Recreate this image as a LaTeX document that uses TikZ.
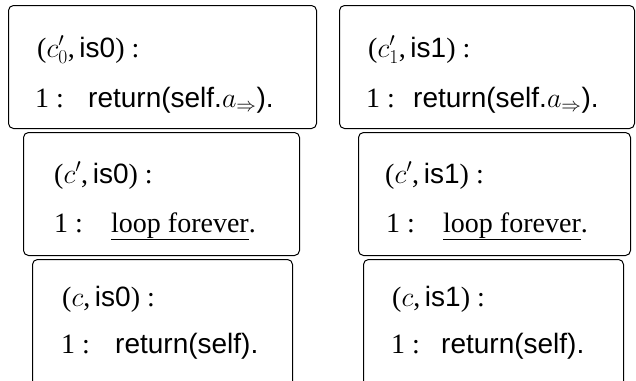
\documentclass[tikz,border=0pt]{standalone}
\usepackage{fix-cm}
\usepackage{fontspec}
\setmainfont{Liberation Serif}
\setsansfont{Liberation Sans}
\begin{document}
\begin{tikzpicture}[x=1pt,y=-1pt,
  box/.style={draw, rounded corners=5pt, line width=1pt, anchor=north west, inner sep=0pt},
  txt/.style={anchor=base west, inner sep=0pt, font=\fontsize{28}{32}\selectfont}]
\useasboundingbox (0,0) rectangle (636,380);
\clip (0,0) rectangle (636,380);
% boxes
\node[box, minimum width=308pt, minimum height=123pt] (b1) at (8,5) {};
\node[box, minimum width=295pt, minimum height=123pt] (b2) at (339,5) {};
\node[box, minimum width=276pt, minimum height=123pt] (b3) at (23,132) {};
\node[box, minimum width=272pt, minimum height=123pt] (b4) at (358,132) {};
\node[box, minimum width=260pt, minimum height=140pt] (b5) at (32,259) {};
\node[box, minimum width=260pt, minimum height=140pt] (b6) at (363,259) {};
% box 1
\node[txt] (h1) at (37,57) {($c'_0$,\,\textsf{is0}) :};
\node[txt] (n1) at (35,107) {1 :};
\node[txt] (s1) at (88,107) {\textsf{return(self.$a_{\Rightarrow}$).}};
% box 2
\node[txt] (h2) at (368,57) {($c'_1$,\,\textsf{is1}) :};
\node[txt] (n2) at (366,107) {1 :};
\node[txt] (s2) at (413,107) {\textsf{return(self.$a_{\Rightarrow}$).}};
% box 3
\node[txt] (h3) at (54,183) {($c'$,\,\textsf{is0}) :};
\node[txt] (n3) at (54,232) {1 :};
\node[txt] (s3) at (111,232) {\underline{loop forever}.};
% box 4
\node[txt] (h4) at (385,183) {($c'$,\,\textsf{is1}) :};
\node[txt] (n4) at (386,232) {1 :};
\node[txt] (s4) at (443,232) {\underline{loop forever}.};
% box 5
\node[txt] (h5) at (62,306) {($c$,\,\textsf{is0}) :};
\node[txt] (n5) at (61,353) {1 :};
\node[txt] (s5) at (115,353) {\textsf{return(self).}};
% box 6
\node[txt] (h6) at (392,306) {($c$,\,\textsf{is1}) :};
\node[txt] (n6) at (391,353) {1 :};
\node[txt] (s6) at (441,353) {\textsf{return(self).}};
\end{tikzpicture}
\end{document}
